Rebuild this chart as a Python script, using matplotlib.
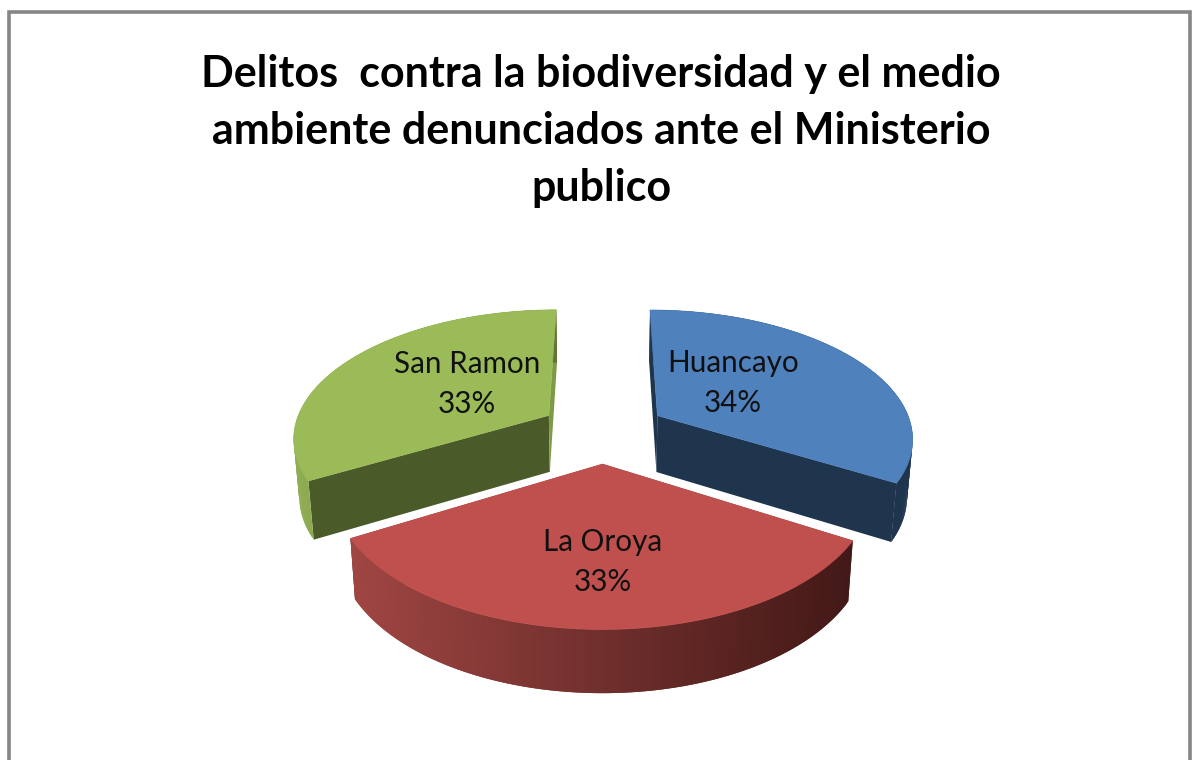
import numpy as np
import matplotlib
matplotlib.use("Agg")
import matplotlib.pyplot as plt
from matplotlib.colors import to_rgb
from matplotlib.patches import Polygon

title = "Delitos  contra la biodiversidad y el medio\nambiente denunciados ante el Ministerio\npublico"
categories = ["Huancayo", "La Oroya", "San Ramon"]
values = [33.5, 33.25, 33.25]  # labels round these to 34 / 33 / 33

top_colors = ["#4F81BD", "#C0504D", "#9BBB59"]
start_cut_colors = ["#1F344D", "#4A1C1A", "#4B5A29"]
end_cut_colors = ["#1F344D", "#4A1C1A", "#7E9A47"]
rim_colors = [("#1F344D", "#1F344D"), ("#A04643", "#431917"), ("#8FAD52", "#5F7335")]
label_pos = [(733, 383), (603, 562), (467, 384)]

plt.rcParams["font.family"] = ["Lato", "DejaVu Sans"]

# perspective view of the flat pie
CX, CY = 603, 431
SX, SY = 255.5, 127
PERSP = 0.16
DEPTH = 57
EXPLODE = 0.25


def project(x, y, bottom=False):
    w = 1 + PERSP * y
    sx = CX + SX * x / w
    sy = CY - SY * y / w
    if bottom:
        sx = CX + (sx - CX) * 0.982
        sy = sy + DEPTH / np.sqrt(w)
    return sx, sy


def mix(c1, c2, t):
    c1, c2 = np.array(to_rgb(c1)), np.array(to_rgb(c2))
    return tuple(c1 + (c2 - c1) * t)


def draw_wall(ax, x, y, color):
    tx, ty = project(x, y)
    bx, by = project(x, y, bottom=True)
    pts = np.column_stack([np.r_[tx, bx[::-1]], np.r_[ty, by[::-1]]])
    ax.add_patch(Polygon(pts, closed=True, facecolor=color, edgecolor="none"))


def draw_slice(ax, start, end, i):
    mid = np.radians((start + end) / 2)
    ox, oy = EXPLODE * np.sin(mid), EXPLODE * np.cos(mid)
    th = np.radians(np.linspace(start, end, 160))
    x = ox + np.sin(th)
    y = oy + np.cos(th)

    # cut faces
    for a, col in ((start, start_cut_colors[i]), (end, end_cut_colors[i])):
        a = np.radians(a)
        draw_wall(ax, np.array([ox, ox + np.sin(a)]), np.array([oy, oy + np.cos(a)]), col)

    # outer rim, shaded left to right; strips overlap to hide seams
    sx, _ = project(x, y)
    left, right = rim_colors[i]
    order = range(len(th) - 1) if sx[-1] > sx[0] else range(len(th) - 2, -1, -1)
    for k in order:
        t = (sx[k] - sx.min()) / (sx.max() - sx.min())
        draw_wall(ax, x[k:k + 3], y[k:k + 3], mix(left, right, t))

    px, py = project(np.r_[ox, x], np.r_[oy, y])
    ax.add_patch(Polygon(np.column_stack([px, py]), closed=True,
                         facecolor=top_colors[i], edgecolor=top_colors[i], linewidth=0.5))


fig = plt.figure(figsize=(12, 7.6), dpi=100)
ax = fig.add_axes([0, 0, 1, 1])
ax.set_xlim(0, 1200)
ax.set_ylim(760, 0)
ax.axis("off")

# chart frame, bottom edge runs off the picture
ax.add_patch(plt.Rectangle((8.5, 11.5), 1181, 760, facecolor="white", edgecolor="#868686", linewidth=2.6))

edges = np.r_[0, np.cumsum(values)] / np.sum(values) * 360
for i in (0, 2, 1):  # front slice goes last
    draw_slice(ax, edges[i], edges[i + 1], i)

for i, name in enumerate(categories):
    lx, ly = label_pos[i]
    ax.text(lx, ly, f"{name}\n{round(values[i] + 0.01)}%", ha="center", va="center", fontsize=21.3,
            color="#111111", linespacing=1.55)

ax.text(601, 131, title, ha="center", va="center", fontsize=31, fontweight="bold",
        color="black", linespacing=1.5)

fig.savefig("out.png", dpi=100)
